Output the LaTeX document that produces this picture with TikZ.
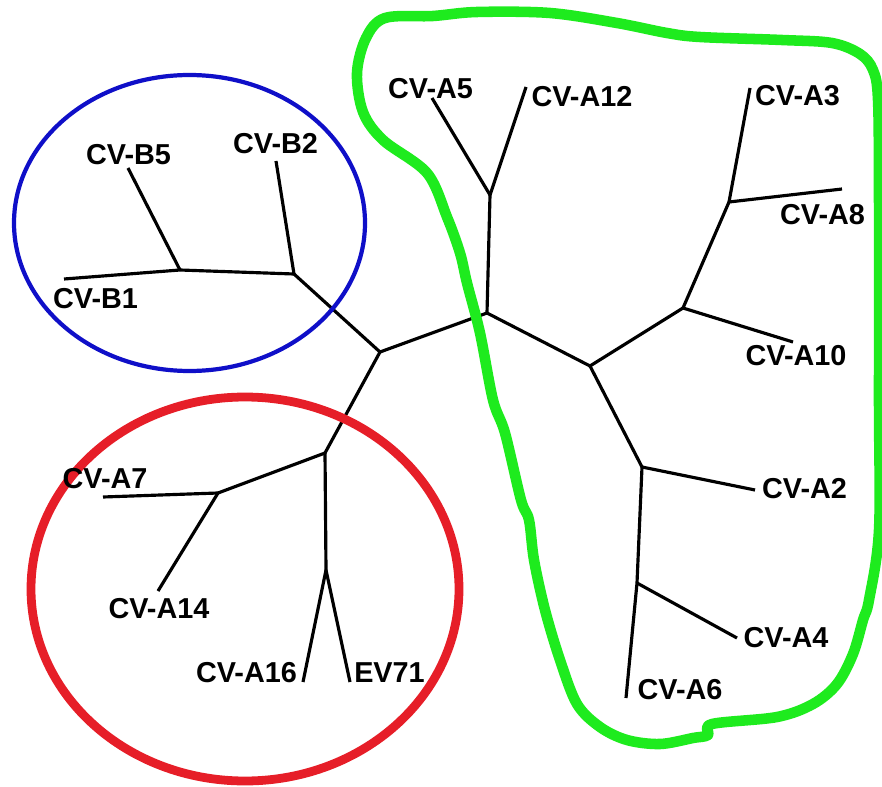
\documentclass[tikz,border=0pt]{standalone}
\usepackage{fontspec}
\setmainfont{Liberation Sans}
\definecolor{cladeA}{RGB}{30,235,30}
\definecolor{cladeB}{RGB}{15,15,200}
\definecolor{cladeC}{RGB}{230,30,40}
\begin{document}
\begin{tikzpicture}[x=0.02cm,y=-0.02cm,
  branch/.style={line width=1.8pt,black},
  taxon/.style={inner sep=0pt,font=\fontsize{16.4}{19}\selectfont\bfseries},
  hull/.style={line width=#1pt,line join=round,line cap=round},
]
\useasboundingbox (0,0) rectangle (882,787);

% internal junctions
\coordinate (c0) at (487,313);
\coordinate (c1) at (380,352);
\coordinate (c2) at (590,366);
\coordinate (jB2) at (294,274);
\coordinate (jB5) at (180,270);
\coordinate (jR) at (325,453);
\coordinate (jA7) at (218,493);
\coordinate (jE) at (326,570);
\coordinate (jA5) at (490,195);
\coordinate (jA10) at (683,308);
\coordinate (jA3) at (729,202);
\coordinate (jA2) at (642,467);
\coordinate (jA4) at (637,583);

% leaf ends
\coordinate (tB2) at (276,161);
\coordinate (tB5) at (128,168);
\coordinate (tB1) at (64,279);
\coordinate (tA7) at (103,497);
\coordinate (tA14) at (158,591);
\coordinate (tA16) at (303,682);
\coordinate (tEV) at (350,682);
\coordinate (tA5) at (432,98);
\coordinate (tA12) at (526,87);
\coordinate (tA10) at (793,342);
\coordinate (tA3) at (750,88);
\coordinate (tA8) at (842,189);
\coordinate (tA2) at (755,490);
\coordinate (tA4) at (737,638);
\coordinate (tA6) at (626,698);

% unrooted tree
\draw[branch] (c1) -- (c0);
\draw[branch] (c1) -- (jB2);
\draw[branch] (jB2) -- (tB2);
\draw[branch] (jB2) -- (jB5);
\draw[branch] (jB5) -- (tB5);
\draw[branch] (jB5) -- (tB1);
\draw[branch] (c1) -- (jR);
\draw[branch] (jR) -- (jA7);
\draw[branch] (jA7) -- (tA7);
\draw[branch] (jA7) -- (tA14);
\draw[branch] (jR) -- (jE);
\draw[branch] (jE) -- (tA16);
\draw[branch] (jE) -- (tEV);
\draw[branch] (c0) -- (jA5);
\draw[branch] (jA5) -- (tA5);
\draw[branch] (jA5) -- (tA12);
\draw[branch] (c0) -- (c2);
\draw[branch] (c2) -- (jA10);
\draw[branch] (jA10) -- (tA10);
\draw[branch] (jA10) -- (jA3);
\draw[branch] (jA3) -- (tA3);
\draw[branch] (jA3) -- (tA8);
\draw[branch] (c2) -- (jA2);
\draw[branch] (jA2) -- (tA2);
\draw[branch] (jA2) -- (jA4);
\draw[branch] (jA4) -- (tA4);
\draw[branch] (jA4) -- (tA6);

% group outlines
\draw[hull=2.4,cladeB] (189.5,223) ellipse [x radius=175.5, y radius=148];
\draw[hull=5,cladeC] (245,589) ellipse [x radius=214, y radius=192];
\draw[hull=6,cladeA] plot[smooth cycle,tension=0.55] coordinates {
  (385,18) (433,16) (477,12) (550,13) (617,23) (667,33) (700,37)
  (782,40) (832,43) (860,54) (873,70) (878,100) (879,200) (879,400)
  (879,530) (869,600) (863,620) (853,654) (837,684) (813,704)
  (777,717) (712,724) (708,735) (693,738) (660,744) (627,740)
  (600,727) (577,704) (560,660) (545,610) (534,560) (529,520)
  (521,500) (505,433) (493,400) (480,333) (467,283) (460,253)
  (447,217) (427,173) (383,140) (363,112) (357,73) (366,38)};

% taxon labels
\node[taxon] (lB5) at (128.5,155) {CV-B5};
\node[taxon] (lB2) at (275.5,144) {CV-B2};
\node[taxon] (lB1) at (95.5,299) {CV-B1};
\node[taxon] (lA7) at (105,479) {CV-A7};
\node[taxon] (lA14) at (159,609) {CV-A14};
\node[taxon] (lA16) at (246.5,673) {CV-A16};
\node[taxon] (lEV) at (389.5,673) {EV71};
\node[taxon] (lA5) at (430.5,89) {CV-A5};
\node[taxon] (lA12) at (582,97) {CV-A12};
\node[taxon] (lA3) at (797.5,96) {CV-A3};
\node[taxon] (lA8) at (822.5,215) {CV-A8};
\node[taxon] (lA10) at (796,356) {CV-A10};
\node[taxon] (lA2) at (804.5,489) {CV-A2};
\node[taxon] (lA4) at (786,638) {CV-A4};
\node[taxon] (lA6) at (680,690) {CV-A6};
\end{tikzpicture}
\end{document}
